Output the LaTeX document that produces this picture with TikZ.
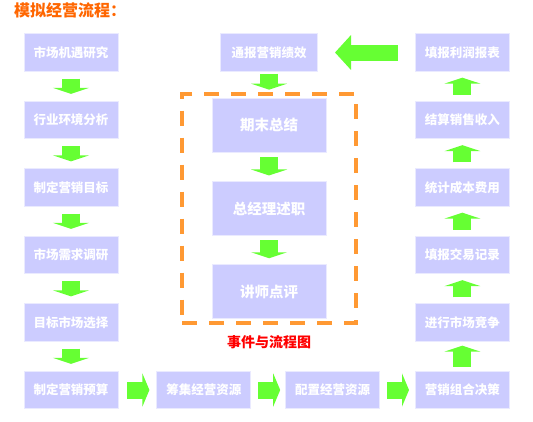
\documentclass[tikz,border=0pt]{standalone}
\usepackage{fontspec}
\setmainfont{Noto Sans CJK SC}
\usetikzlibrary{
  arrows.meta,
  positioning,
  fit
}
\definecolor{boxcolor}{RGB}{204, 204, 255}
\definecolor{boxedge}{RGB}{234, 234, 255}
\definecolor{flowgreen}{RGB}{102, 255, 51}
\definecolor{framecolor}{RGB}{255, 153, 51}
\definecolor{titlecolor}{RGB}{255, 102, 0}
\definecolor{labelred}{RGB}{255, 0, 0}
\tikzset{
stepbox/.style={
  rectangle,
  fill=boxcolor,
  draw=boxedge,
  line width=0.8pt,
  minimum width=94pt,
  minimum height=37.5pt,
  inner sep=0pt,
  align=center,
  text=white,
  font=\bfseries\fontsize{12.5}{14}\selectfont
},
eventbox/.style={
  stepbox,
  minimum width=114pt,
  minimum height=54pt,
  font=\bfseries\fontsize{14.5}{16}\selectfont
},
eventframe/.style={
  rectangle,
  draw=framecolor,
  line width=4pt,
  dash pattern=on 15pt off 12pt,
  inner xsep=29.5pt,
  inner ysep=4pt
},
titletext/.style={
  font=\bfseries\fontsize{16}{18}\selectfont,
  text=titlecolor,
  inner sep=0pt
},
framelabel/.style={
  font=\bfseries\fontsize{14}{16}\selectfont,
  text=labelred,
  inner sep=0pt
},
flow/.style={
  -{Triangle[length=6pt,width=36pt]},
  line width=18pt,
  draw=flowgreen,
  shorten <=7pt,
  shorten >=7pt
},
hflow/.style={
  flow,
  -{Triangle[length=7pt,width=33pt]},
  line width=17pt
},
bigflow/.style={
  -{Triangle[length=16pt,width=34pt]},
  line width=16pt,
  draw=flowgreen,
  shorten <=17pt,
  shorten >=17pt
}
}

\begin{document}
\begin{tikzpicture}[x=1pt, y=-1pt, node distance=29.2pt]
  \useasboundingbox (0,0) rectangle (533,421);

  % Title
  \node[titletext, anchor=west] (title) at (14,10) {模拟经营流程：};

  % Left column (top to bottom)
  \node[stepbox] (s1) at (71,52.5) {市场机遇研究};
  \node[stepbox, below=of s1] (s2) {行业环境分析};
  \node[stepbox, below=of s2] (s3) {制定营销目标};
  \node[stepbox, below=of s3] (s4) {市场需求调研};
  \node[stepbox, below=of s4] (s5) {目标市场选择};
  \node[stepbox, below=of s5] (s6) {制定营销预算};

  % Bottom row (left to right)
  \node[stepbox, right=38pt of s6] (b1) {筹集经营资源};
  \node[stepbox, right=34pt of b1] (b2) {配置经营资源};
  \node[stepbox, right=35pt of b2] (r1) {营销组合决策};

  % Right column (bottom to top)
  \node[stepbox, above=of r1] (r2) {进行市场竞争};
  \node[stepbox, above=of r2] (r3) {填报交易记录};
  \node[stepbox, above=of r3] (r4) {统计成本费用};
  \node[stepbox, above=of r4] (r5) {结算销售收入};
  \node[stepbox, above=of r5] (r6) {填报利润报表};

  % Middle: report and events
  \node[stepbox, minimum width=97pt, left=97pt of r6] (report) {通报营销绩效};
  \node[eventbox, below=26pt of report] (e1) {期末总结};
  \node[eventbox, below=29pt of e1] (e2) {总经理述职};
  \node[eventbox, below=28pt of e2] (e3) {讲师点评};
  \node[eventframe, fit=(e1)(e3)] (frame) {};
  \node[framelabel, below=10pt of frame] (framelbl) {事件与流程图};

  % Arrows left column
  \draw[flow] (s1) -- (s2);
  \draw[flow] (s2) -- (s3);
  \draw[flow] (s3) -- (s4);
  \draw[flow] (s4) -- (s5);
  \draw[flow] (s5) -- (s6);

  % Arrows bottom row
  \draw[hflow, shorten <=9pt] (s6) -- (b1);
  \draw[hflow, shorten >=5pt] (b1) -- (b2);
  \draw[hflow, shorten >=6pt] (b2) -- (r1);

  % Arrows right column (upwards)
  \draw[flow, shorten <=4pt, shorten >=4pt] (r1) -- (r2);
  \draw[flow, shorten <=6pt, shorten >=6pt] (r2) -- (r3);
  \draw[flow, shorten <=6pt, shorten >=6pt] (r3) -- (r4);
  \draw[flow, shorten <=6pt, shorten >=6pt] (r4) -- (r5);
  \draw[flow, shorten <=6pt, shorten >=6pt] (r5) -- (r6);

  % Back to the report, then down through the events
  \draw[bigflow] (r6) -- (report);
  \draw[flow, shorten <=2pt, shorten >=8pt] (report) -- (e1);
  \draw[flow, shorten <=5pt, shorten >=6pt] (e1) -- (e2);
  \draw[flow, shorten <=4pt, shorten >=6pt] (e2) -- (e3);
\end{tikzpicture}
\end{document}
